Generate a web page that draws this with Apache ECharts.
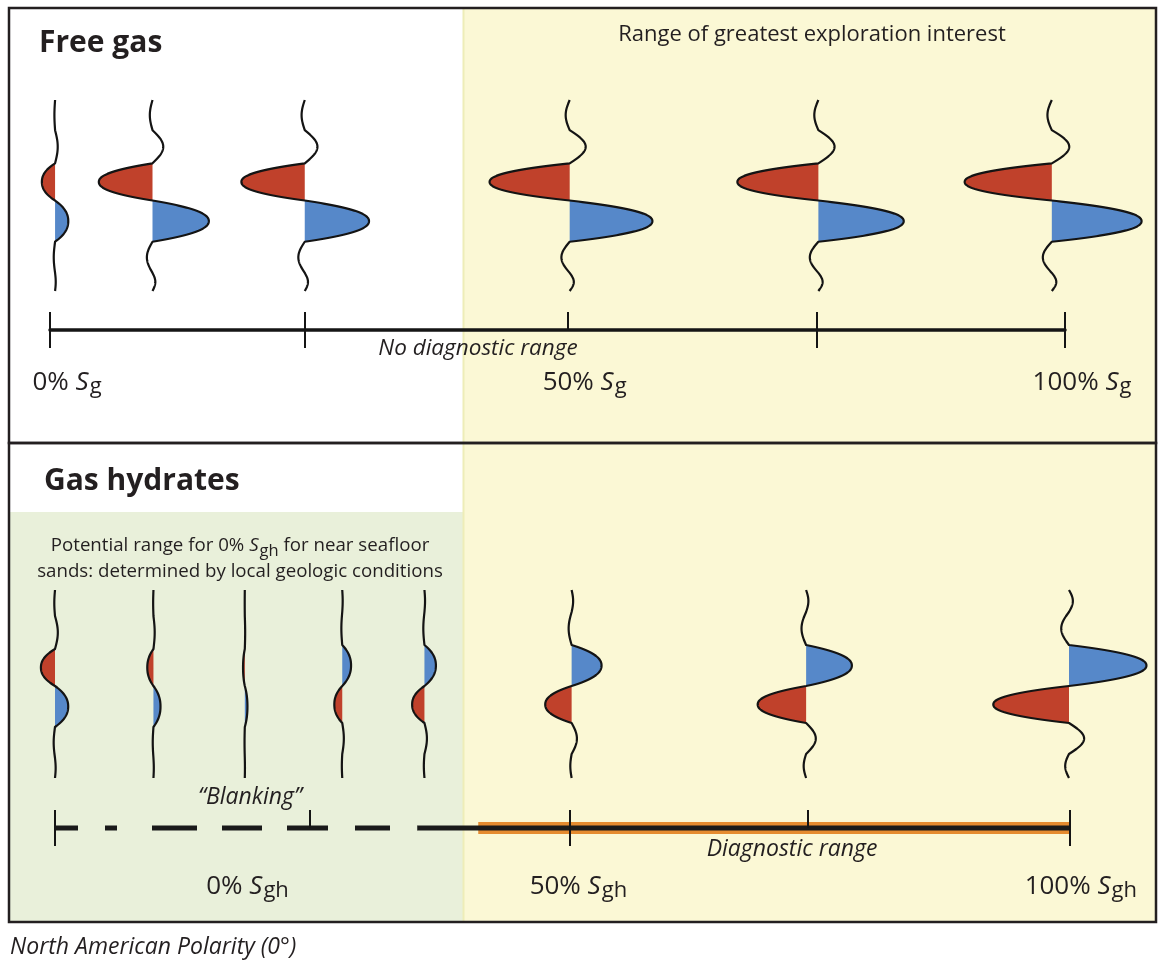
<!DOCTYPE html>
<html><head><meta charset="utf-8">
<script src="https://cdn.jsdelivr.net/npm/echarts@6/dist/echarts.min.js"></script>
<style>html,body{margin:0;padding:0;background:#fff}#c{width:1158px;height:962px}</style>
</head><body><div id="c"></div><script>
// ---------------- data ----------------
// Free gas panel: trace positions along the gas-saturation scale (%)
const freeGasTracePos   = [0.5, 10.1, 25.1, 51.2, 75.7, 98.7];
// relative reflection amplitudes (negative = peak drawn left/red, positive = trough drawn right/blue)
const freeGasUpperLobe  = [-15, -61, -72, -91, -92, -99];
const freeGasLowerLobe  = [15, 64, 73, 94, 97, 102];
const freeGasTickUp     = [0, 25.1, 51, 75.5, 100];
const freeGasTickDown   = [0, 25.1, 75.5, 100];
const freeGasLabelPos   = [0, 51, 100];
const freeGasLabels     = ['0%', '50%', '100%'];

// Gas hydrate panel
const hydrateTracePos   = [0, 9.7, 18.7, 28.3, 36.4, 50.9, 74.0, 99.9];
const hydrateUpperLobe  = [-16, -7, -2, 10, 13, 34, 52, 88];
const hydrateLowerLobe  = [15, 8, 3, -9, -14, -30, -55, -86];
const hydrateTickUp     = [0, 25.1, 50.7, 74.2, 100];
const hydrateTickDown   = [0, 50.7, 100];
const hydrateLabelPos   = [16.7, 49.3, 98.8];
const hydrateLabels     = ['0%', '50%', '100%'];
const hydrateBarStart   = [41.7, 0, 35.7];
const hydrateBarEnd     = [100, 35.7, 100];
const hydrateBarKind    = ['diagnostic', 'blanking', 'measured'];

// ---------------- styling ----------------
const F = '"Open Sans", "Noto Sans", sans-serif';
const INK = '#231f20';
const RED = '#c0412b';
const BLUE = '#5688c9';
const ORANGE = '#e58b2f';
const AMP_PX = 0.88;

// schematic wavelet drawing: piecewise lobes (tail, side lobe, main upper, main lower, side lobe, tail)
function mainLobe(s) { return 1 - Math.pow(Math.abs(2 * s - 1), 2.2); }
function lobeLen(amp) { return amp < 0 ? 37 : 41; }
function sideAmp(amp) { return amp < 0 ? 0.2 : 0.1; }
function deflect(t, up, lo, tMin, tMax) {
  const Lu = lobeLen(up), Ll = lobeLen(lo);
  const su = -Lu - 33, sl = Ll + 31;
  let s;
  if (t < su)  { s = (t - tMin) / (su - tMin); return 0.05 * up * Math.sin(Math.PI * s); }
  if (t < -Lu) { s = (t - su) / 33; return -sideAmp(up) * up * Math.sin(Math.PI * s); }
  if (t < 0)   { s = (t + Lu) / Lu; return up * mainLobe(s); }
  if (t < Ll)  { s = t / Ll; return lo * mainLobe(s); }
  if (t < sl)  { s = (t - Ll) / 31; return -sideAmp(lo) * lo * Math.sin(Math.PI * s); }
  s = (t - sl) / (tMax - sl); return 0.05 * lo * Math.sin(Math.PI * s);
}

function makeWaveletRender(tMin, tMax) {
  return function (params, api) {
    const pos = api.value(0), up = api.value(1), lo = api.value(2);
    const pts = [], ts = [];
    let x0 = 0;
    for (let t = tMin; t <= tMax + 1e-6; t += 0.5) {
      const d = deflect(t, up, lo, tMin, tMax);
      const c = api.coord([pos, t]);
      x0 = c[0];
      pts.push([c[0] + d * AMP_PX, c[1]]);
      ts.push(t);
    }
    const children = [];
    [[-lobeLen(up), 0, up], [0, lobeLen(lo), lo]].forEach(([ta, tb, amp]) => {
      if (!amp) return;
      const poly = [];
      ts.forEach((t, i) => { if (t >= ta && t <= tb) poly.push(pts[i]); });
      poly.unshift([x0, poly[0][1]]);
      poly.push([x0, poly[poly.length - 1][1]]);
      children.push({ type: 'polygon', shape: { points: poly }, style: { fill: amp < 0 ? RED : BLUE }, silent: true });
    });
    children.push({ type: 'polyline', shape: { points: pts }, style: { stroke: '#141414', lineWidth: 2.2, fill: null, lineJoin: 'round' }, silent: true });
    return { type: 'group', children };
  };
}

function barRender(params, api) {
  const s = api.coord([api.value(0), 0])[0];
  const e = api.coord([api.value(1), 0])[0];
  const cs = params.coordSys;
  const y = cs.y + cs.height + 50;
  const kind = hydrateBarKind[params.dataIndex];
  if (kind === 'diagnostic') {
    return { type: 'rect', shape: { x: s, y: y - 6, width: e - s, height: 12 }, style: { fill: ORANGE } };
  }
  if (kind === 'blanking') {
    return { type: 'line', shape: { x1: s, y1: y, x2: e, y2: y },
      style: { stroke: '#1a1a1a', lineWidth: 5, lineDash: [23, 27, 12, 35, 45, 25, 40, 25, 41, 27, 35, 27] } };
  }
  return { type: 'line', shape: { x1: s, y1: y, x2: e, y2: y }, style: { stroke: '#1a1a1a', lineWidth: 5 } };
}

function nearestIdx(arr, v) {
  let bi = 0; arr.forEach((p, i) => { if (Math.abs(p - v) < Math.abs(arr[bi] - v)) bi = i; }); return bi;
}
const labelRich = {
  n: { fontSize: 26, fontFamily: F, color: INK, lineHeight: 30 },
  s: { fontSize: 26, fontFamily: F, color: INK, fontStyle: 'italic', lineHeight: 30 },
  sub: { fontSize: 22, fontFamily: F, color: INK, lineHeight: 22, padding: [8, 0, 0, 1] }
};
const tickStyle = { color: '#151515', width: 2 };

const option = {
  animation: false,
  backgroundColor: '#ffffff',
  grid: [
    { left: 50, right: 93, top: 100, height: 191 },
    { left: 55, right: 88, top: 590, height: 188 }
  ],
  xAxis: [
    { gridIndex: 0, type: 'value', min: 0, max: 100, position: 'bottom', offset: 39, z: 5,
      axisLine: { show: true, onZero: false, lineStyle: { color: '#151515', width: 3.5 } },
      axisTick: { show: true, inside: true, length: 18, lineStyle: tickStyle, customValues: freeGasTickUp },
      axisLabel: { show: true, customValues: freeGasLabelPos, margin: 38, padding: [0, 0, 0, 34], rich: labelRich,
        showMinLabel: true, showMaxLabel: true, hideOverlap: false,
        formatter: v => `{n|${freeGasLabels[nearestIdx(freeGasLabelPos, v)]} }{s|S}{sub|g}` },
      splitLine: { show: false } },
    { gridIndex: 0, type: 'value', min: 0, max: 100, position: 'bottom', offset: 39, z: 5,
      axisLine: { show: false, onZero: false },
      axisTick: { show: true, inside: false, length: 18, lineStyle: tickStyle, customValues: freeGasTickDown },
      axisLabel: { show: false }, splitLine: { show: false } },
    { gridIndex: 1, type: 'value', min: 0, max: 100, position: 'bottom', offset: 50, z: 5,
      axisLine: { show: false, onZero: false },
      axisTick: { show: true, inside: true, length: 18, lineStyle: tickStyle, customValues: hydrateTickUp },
      axisLabel: { show: true, customValues: hydrateLabelPos, margin: 44, padding: [0, 0, 0, 46], rich: labelRich,
        showMinLabel: true, showMaxLabel: true, hideOverlap: false,
        formatter: v => `{n|${hydrateLabels[nearestIdx(hydrateLabelPos, v)]} }{s|S}{sub|gh}` },
      splitLine: { show: false } },
    { gridIndex: 1, type: 'value', min: 0, max: 100, position: 'bottom', offset: 50, z: 5,
      axisLine: { show: false, onZero: false },
      axisTick: { show: true, inside: false, length: 18, lineStyle: tickStyle, customValues: hydrateTickDown },
      axisLabel: { show: false }, splitLine: { show: false } }
  ],
  yAxis: [
    { gridIndex: 0, type: 'value', min: -100, max: 90, inverse: true, show: false },
    { gridIndex: 1, type: 'value', min: -96, max: 92, inverse: true, show: false }
  ],
  series: [
    { type: 'custom', name: 'Free gas', xAxisIndex: 0, yAxisIndex: 0, clip: false,
      renderItem: makeWaveletRender(-100, 90), encode: { x: 0 },
      data: freeGasTracePos.map((p, i) => [p, freeGasUpperLobe[i], freeGasLowerLobe[i]]) },
    { type: 'custom', name: 'Gas hydrates', xAxisIndex: 2, yAxisIndex: 1, clip: false,
      renderItem: makeWaveletRender(-96, 92), encode: { x: 0 },
      data: hydrateTracePos.map((p, i) => [p, hydrateUpperLobe[i], hydrateLowerLobe[i]]) },
    { type: 'custom', name: 'Hydrate scale', xAxisIndex: 2, yAxisIndex: 1, clip: false, z: 3,
      renderItem: barRender, encode: { x: [0, 1] },
      data: hydrateBarStart.map((s, i) => [s, hydrateBarEnd[i]]) }
  ],
  graphic: [
    { type: 'rect', z: -10, shape: { x: 9, y: 8, width: 1147, height: 914 }, style: { fill: '#ffffff' } },
    { type: 'rect', z: -9, shape: { x: 463, y: 9, width: 693, height: 912 }, style: { fill: '#fbf8d5' } },
    { type: 'rect', z: -9, shape: { x: 10, y: 512, width: 453, height: 409 }, style: { fill: '#e9f0da' } },
    { type: 'line', z: -8, shape: { x1: 463.5, y1: 9, x2: 463.5, y2: 921 }, style: { stroke: '#eeedb8', lineWidth: 2 } },
    { type: 'rect', z: 20, shape: { x: 9, y: 8, width: 1147, height: 435 }, style: { fill: null, stroke: INK, lineWidth: 2.5 } },
    { type: 'rect', z: 20, shape: { x: 9, y: 443, width: 1147, height: 479 }, style: { fill: null, stroke: INK, lineWidth: 2.5 } },
    { type: 'text', z: 20, x: 39, y: 43, style: { text: 'Free gas', fill: INK, font: `bold 30px ${F}`, align: 'left', verticalAlign: 'middle', textAlign: 'left', textVerticalAlign: 'middle' } },
    { type: 'text', z: 20, x: 44, y: 481, style: { text: 'Gas hydrates', fill: INK, font: `bold 30px ${F}`, align: 'left', verticalAlign: 'middle', textAlign: 'left', textVerticalAlign: 'middle' } },
    { type: 'text', z: 20, x: 812, y: 35, style: { text: 'Range of greatest exploration interest', fill: INK, font: `22px ${F}`, align: 'center', verticalAlign: 'middle', textAlign: 'center', textVerticalAlign: 'middle' } },
    { type: 'text', z: 20, x: 478, y: 349, style: { text: 'No diagnostic range', fill: INK, font: `italic 22.5px ${F}`, align: 'center', verticalAlign: 'middle', textAlign: 'center', textVerticalAlign: 'middle' } },
    { type: 'text', z: 20, x: 240, y: 559, style: {
        text: 'Potential range for 0% {s|S}{sub|gh} for near seafloor\nsands: determined by local geologic conditions',
        fill: INK, font: `18.7px ${F}`, fontSize: 18.7, fontFamily: F, lineHeight: 26, align: 'center', verticalAlign: 'middle', textAlign: 'center', textVerticalAlign: 'middle',
        rich: { s: { fontSize: 18.7, fontFamily: F, fontStyle: 'italic', fill: INK, lineHeight: 26 },
                sub: { fontSize: 16.5, fontFamily: F, fill: INK, lineHeight: 16, padding: [11, 0, 0, 1] } } } },
    { type: 'text', z: 20, x: 250, y: 797, style: { text: '\u201cBlanking\u201d', fill: INK, font: `italic 23px ${F}`, align: 'center', verticalAlign: 'middle', textAlign: 'center', textVerticalAlign: 'middle' } },
    { type: 'text', z: 20, x: 792, y: 849, style: { text: 'Diagnostic range', fill: INK, font: `italic 23px ${F}`, align: 'center', verticalAlign: 'middle', textAlign: 'center', textVerticalAlign: 'middle' } },
    { type: 'text', z: 20, x: 10, y: 947, style: { text: 'North American Polarity (0\u00b0)', fill: INK, font: `italic 23px ${F}`, align: 'left', verticalAlign: 'middle', textAlign: 'left', textVerticalAlign: 'middle' } }
  ]
};
const chart = echarts.init(document.getElementById('c'), null, { renderer: 'canvas' });
chart.setOption(option);
</script></body></html>
